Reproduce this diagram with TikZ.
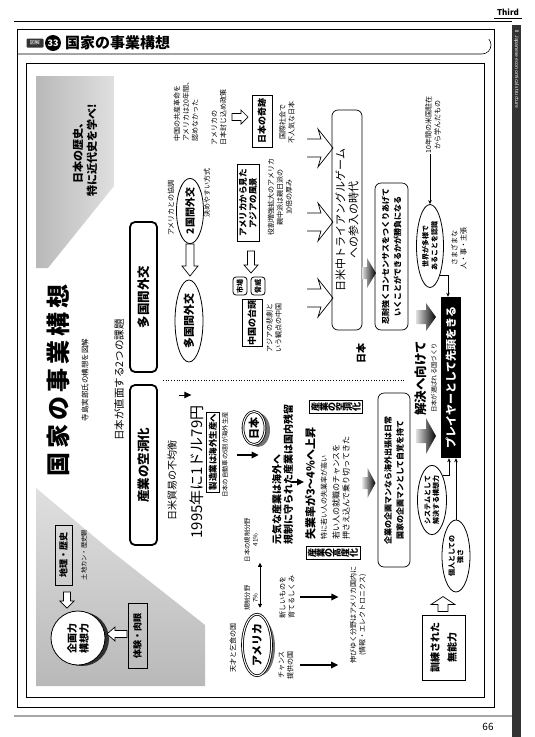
\documentclass[tikz,border=0pt]{standalone}
\usepackage{fontspec}
\usepackage{graphicx}
\setmainfont{Noto Sans CJK JP}
\usetikzlibrary{shapes.geometric,arrows.meta,calc}
\newcommand{\rc}[1]{\rotatebox[origin=c]{90}{#1}}
\tikzset{
  rt/.style={rotate=90, inner sep=0.5pt, align=center},
  t7/.style={rt, font=\fontsize{7}{9}\selectfont},
  t6/.style={rt, font=\fontsize{6.3}{8}\selectfont},
  box/.style={rt, draw, line width=0.8pt, font=\bfseries\fontsize{9}{11}\selectfont},
  rbox/.style={rt, draw, line width=0.7pt, rounded corners=6pt},
  bigbox/.style={rt, draw, line width=1.8pt, rounded corners=5pt, minimum height=27, font=\bfseries\fontsize{12.5}{12.5}\selectfont},
  oval/.style={rt, ellipse, draw, line width=0.8pt, inner sep=0pt, fill=white},
  arr/.style={-{Stealth[length=4pt,width=3.5pt]}, line width=0.6pt},
  barr/.style={-{Triangle[length=7pt,width=6.5pt]}, line width=1.6pt},
  pics/harrow/.style n args={4}{code={\draw[line width=0.7pt, fill=white] (-#1/2,-#2) -- (#1/2-#4,-#2) -- (#1/2-#4,-#3) -- (#1/2,0) -- (#1/2-#4,#3) -- (#1/2-#4,#2) -- (-#1/2,#2) -- cycle;}},
  pics/darrow/.style n args={4}{code={\shade[left color=gray!25, right color=black] (-#1/2,-#2) -- (#1/2-#4,-#2) -- (#1/2-#4,-#3) -- (#1/2,0) -- (#1/2-#4,#3) -- (#1/2-#4,#2) -- (-#1/2,#2) -- cycle;}},
  pics/oarrow/.style={code={\draw[line width=0.7pt] (-13,-9) -- (1,-9) -- (-2,-19) -- (13,0) -- (-2,19) -- (1,9) -- (-13,9);}}
}
\begin{document}
\begin{tikzpicture}[x=1pt,y=-1pt]
\useasboundingbox (0,0) rectangle (535,737);
\fill[white] (0,0) rectangle (535,737);
% ---------- page frame ----------
\draw[line width=0.8pt] (14,21) -- (512,21);
\draw[line width=0.7pt] (17,29) rectangle (494,707);
\draw[line width=0.6pt] (17,54) -- (482,54) arc[start angle=90, end angle=-40, radius=9];
\draw[line width=0.6pt] (26,63) rectangle (484,697);
\draw[line width=2pt, gray!70] (14,716) -- (512,716);
\fill[gray!40!black] (512,25) rectangle (521,737);
\node[rotate=-90, anchor=west, text=white, font=\fontsize{5}{5}\selectfont, inner sep=0] (strip) at (516.5,30) {II\ \ Japanese economical structure};
\node[font=\bfseries\itshape\fontsize{8}{8}\selectfont, inner sep=0, anchor=south] (third) at (508,16) {Third};
\draw[line width=0.5pt] (494,18) -- (522,18);
\node[font=\fontsize{10}{10}\selectfont] (pg) at (488,727) {66};
% header
\node[fill=gray!40!black, text=white, rounded corners=1pt, minimum width=17, minimum height=9, inner sep=0, font=\fontsize{5}{5}\selectfont] (hz) at (35,43) {図解};
\node[circle, fill=black, text=white, minimum size=16, inner sep=0, font=\bfseries\fontsize{9}{9}\selectfont] (hn) at (53,43) {33};
\node[anchor=west, inner sep=0, font=\bfseries\fontsize{15}{15}\selectfont] (ht) at (65,43) {国家の事業構想};
% ---------- gray backgrounds ----------
\shade[left color=gray!55, right color=gray!25] (36,76) -- (114,76) -- (114,186) -- (48,268) -- (36,268) -- cycle;
\shade[top color=gray!25, bottom color=gray!55] (36,488) -- (110,550) -- (205,625) -- (205,686) -- (36,686) -- cycle;
% ---------- titles ----------
\node[rt, font=\bfseries\fontsize{11}{14}\selectfont] (rek) at (85,150) {日本の歴史、\\特に近代史を学べ!};
\node[rt, font=\bfseries\fontsize{24}{24}\selectfont] (title) at (58,380) {国\,家\,の\,事\,業\,構\,想};
\node[rt, font=\fontsize{7.5}{7.5}\selectfont] (sub) at (85,380) {寺島実郎氏の構想を図解};
\node[rt, font=\fontsize{10.5}{10.5}\selectfont] (q) at (119,380) {日本が直面する2つの課題};
\node[bigbox, minimum width=150] (dip) at (143.5,297) {多国間外交};
\node[bigbox, minimum width=160] (ind) at (143.5,465) {産業の空洞化};
\draw[line width=0.7pt, dotted] (163,380) -- (405,380);
% ---------- upper half: diplomacy ----------
\node[t7, align=left] (chn) at (186,110) {中国の共産革命を\\アメリカは20年間、\\認めなかった};
\node[t7] (kyo) at (171,208) {アメリカとの協調};
\node[oval, minimum width=58, minimum height=27, font=\bfseries\fontsize{10}{10}\selectfont] (two) at (190,211) {2国間外交};
\node[t7] (kim) at (207,193) {決めやすい方式};
\pic[rotate=-90] at (190,260) {harrow={32}{4}{8}{10}};
\node[oval, minimum width=82, minimum height=28, font=\bfseries\fontsize{11}{11}\selectfont] (multi) at (189,321) {多国間外交};
\node[t7, align=left] (fuj) at (219,117) {アメリカの\\日本封じ込め政策};
\pic at (240,117) {harrow={16}{3.5}{7}{7}};
\node[box, minimum width=52, minimum height=20] (kis) at (262,121) {日本の奇跡};
\node[t7] (fun) at (287,122) {国際社会で\\不人気な日本};
\pic at (320,148) {oarrow};
\pic at (320,222) {oarrow};
\pic at (320,298) {oarrow};
\node[rbox, minimum width=220, minimum height=30, font=\fontsize{11}{13}\selectfont] (tri) at (347,220) {日米中トライアングルゲーム\\への参入の時代};
\node[box, minimum width=77, minimum height=22, font=\bfseries\fontsize{8.5}{10}\selectfont] (mit) at (248,203) {アメリカから見た\\アジアの風景};
\node[t7] (yak) at (280,197) {役割増強拡大のアメリカ\\親中派は親日派の\\10倍の厚み};
\pic[rotate=-90] at (251,262) {harrow={22}{3.5}{7}{8}};
\node[rt, draw, rounded corners=3pt, line width=0.8pt, minimum width=18, minimum height=14, font=\bfseries\fontsize{7}{7}\selectfont] (ich) at (240,286) {市場};
\node[rt, draw, rounded corners=3pt, line width=0.8pt, minimum width=18, minimum height=14, font=\bfseries\fontsize{7}{7}\selectfont] (kyoi) at (258,286) {脅威};
\node[box, minimum width=47, minimum height=20] (tai) at (252,323) {中国の台頭};
\node[t7] (hig) at (274,328) {アジアの悲劇と\\いう観点の中国};
\node[rt, font=\bfseries\fontsize{10}{10}\selectfont] (nih) at (361,353) {日本};
\node[rbox, minimum width=147, minimum height=33, font=\bfseries\fontsize{8}{12}\selectfont] (nin) at (391.5,256.5) {忍耐強くコンセンサスをつくりあげて\\いくことができるかが勝負になる};
\pic at (369,273) {darrow={14}{6}{15}{9}};
\node[t7] (ten) at (433,125) {10年間の米国駐在\\から学んだもの};
\node[oval, minimum width=83, minimum height=27, font=\bfseries\fontsize{7}{9}\selectfont] (tay) at (430,246) {世界が多様で\\あることを認識};
\draw[arr] (tay.east |- ten.west) -- (tay.east);
\node[t7] (sam) at (459,248) {さまざまな\\人・事・主張};
\node[rt, fill=black, text=white, minimum width=161, minimum height=20, font=\bfseries\fontsize{11}{11}\selectfont] (pl) at (451,377.5) {プレイヤーとして先頭をきる};
\draw[arr] (tay.south west) -| ([xshift=-3pt]pl.east);
\pic at (426,317) {darrow={20}{7}{14}{10}};
\pic at (426,436) {darrow={20}{7}{18}{10}};
\node[rt, font=\bfseries\fontsize{12.5}{12.5}\selectfont] (kai) at (421,378) {解決へ向けて};
\node[t6] (kaisub) at (434,378) {日本が選ばれる国づくり};
\node[oval, minimum width=64, minimum height=29, font=\bfseries\fontsize{7}{8.5}\selectfont] (sys) at (432,500) {システムとして\\解決する構想力};
\node[oval, minimum width=72, minimum height=28, font=\bfseries\fontsize{7}{8.5}\selectfont] (kojin) at (456,556) {個人としての\\強さ};
\draw[arr] (sys.south east) -| ([xshift=-2pt]pl.west);
\draw[arr] (kojin.east) -- (kojin.east |- pl.west);
\pic[rotate=90] at (443,604) {harrow={15}{5}{12}{8}};
\node[box, minimum width=65, minimum height=43, font=\bfseries\fontsize{10}{17}\selectfont] (kun) at (443.5,647.5) {訓練された\\無能力};
\node[rbox, minimum width=174, minimum height=32, font=\bfseries\fontsize{8}{12}\selectfont] (kig) at (394,480) {企業の企画マンなら海外出張は日常\\国家の企画マンとして自覚を持て};
\pic at (369,483) {darrow={13}{6}{15}{8}};
% ---------- lower half: industry ----------
\node[rt, font=\fontsize{10}{10}\selectfont] (boe) at (172,480) {日米貿易の不均衡};
\draw[barr, line width=1pt] ([xshift=2pt]boe.south |- 0,395) -- ++(12,0);
\node[rt, font=\fontsize{15}{15}\selectfont] (yen) at (197,472) {1995年に1ドル79円};
\node[box, minimum width=80, minimum height=13, inner sep=1pt, font=\bfseries\fontsize{8.5}{8.5}\selectfont] (sei) at (213,452) {製造業は海外生産へ};
\node[t6] (jid) at (225,455) {日本の自動車の5割が海外生産};
\draw[barr] ([xshift=8pt]jid.south) -- ++(22,0);
\fill[black, opacity=0.55] (258,430) ellipse (12 and 17);
\node[oval, double, double distance=1pt, minimum width=33, minimum height=22, font=\bfseries\fontsize{11}{11}\selectfont] (jp) at (254,428) {日本};
\node[rt, anchor=west, align=left, inner sep=0, font=\bfseries\fontsize{10}{11.5}\selectfont] (gen) at (282.5,545) {元気な産業は海外へ\\規制に守られた産業は国内残留};
\coordinate (g1) at (292,482);
\draw[barr] (g1) -- ++(12,0);
\node[draw, line width=0.7pt, inner sep=2pt, font=\bfseries\fontsize{9}{9}\selectfont] (kudo) at (336,407) {\rc{産}\rc{業}\rc{の}\rc{空}\rc{洞}\rc{化}};
\node[rt, anchor=west, align=left, inner sep=0] (shi) at (316,540) {{\bfseries\fontsize{11}{12}\selectfont 失業率が3〜4\%へ上昇}\\{\fontsize{7}{9}\selectfont 特に若い人の失業率が高い}};
\node[rt, anchor=west, align=left, inner sep=0, font=\fontsize{8}{10}\selectfont] (wak) at (341,540) {若い人の就職のチャンスを\\押さえ込んで乗り切ってきた};
\node[draw, line width=0.7pt, inner sep=2pt, font=\bfseries\fontsize{9}{9}\selectfont] (kodo) at (333,553) {\rc{産}\rc{業}\rc{の}\rc{高}\rc{度}\rc{化}};
\node[t6] (kis41) at (251,540) {日本の規制分野\\41\%};
\draw[{Triangle[length=4pt,width=4pt]}-{Triangle[length=4pt,width=4pt]}, line width=0.8pt] ([xshift=9pt]kis41.west) -- ++(0,45);
\node[t6] (kis7) at (251,598) {規制分野\\7\%};
\node[t7] (ten2) at (233,648) {天才と乞食の国};
\fill[black, opacity=0.55] (261,647) ellipse (14 and 28);
\node[oval, double, double distance=1pt, minimum width=56, minimum height=29, font=\bfseries\fontsize{11}{11}\selectfont] (us) at (257,645) {アメリカ};
\node[t7] (cha) at (286,665) {チャンス\\提供の国};
\node[t7] (ata) at (287,597) {新しいものを\\育てるしくみ};
\draw[barr] ([xshift=5pt]ata.south) -- ++(38,0);
\draw[barr] ([xshift=6pt]cha.south) -- ++(38,0);
\node[t7] (nob) at (358,615) {伸びゆく分野はアメリカ国内に\\(情報・エレクトロニクス)};
% ---------- lower left (gray) ----------
\node[box, minimum width=60, minimum height=17] (chi) at (63.5,555) {地理・歴史};
\node[t6] (toc) at (84,555) {土地カン・歴史観};
\pic[rotate=-90] at (67,600) {harrow={16}{3.5}{7}{7}};
\fill[black, opacity=0.75] (82,639) circle (27);
\node[circle, draw, fill=white, line width=0.8pt, minimum size=54, inner sep=0, rotate=90, align=center, font=\bfseries\fontsize{10}{12}\selectfont] (kik) at (78,638) {企画力\\構想力};
\pic[rotate=180] at (117,634) {harrow={20}{3.5}{7}{8}};
\node[box, minimum width=65, minimum height=19] (tai2) at (137.5,635.5) {体験・肉眼};
\end{tikzpicture}
\end{document}
